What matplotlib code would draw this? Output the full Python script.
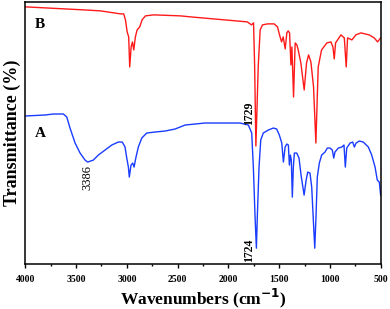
import matplotlib
matplotlib.use("Agg")
import matplotlib.pyplot as plt
from matplotlib.ticker import MultipleLocator

# spectrum A (blue): wavenumber (cm-1) and transmittance (arbitrary units)
wn_a = [4000, 3806, 3724, 3626, 3592, 3560, 3510, 3461, 3412, 3386, 3330, 3281,
        3215, 3149, 3084, 3045, 3018, 3001, 2985, 2976, 2959, 2942, 2929, 2910,
        2887, 2853, 2804, 2722, 2623, 2525, 2426, 2328, 2230, 2181, 1885, 1803,
        1770, 1754, 1737, 1724, 1715, 1698, 1681, 1656, 1606, 1557, 1524, 1498,
        1474, 1458, 1441, 1424, 1409, 1399, 1389, 1380, 1370, 1360, 1350, 1327,
        1304, 1284, 1254, 1234, 1218, 1196, 1179, 1163, 1149, 1137, 1124, 1104,
        1081, 1048, 1025, 999, 976, 962, 950, 917, 883, 861, 848, 834, 801, 775,
        759, 742, 710, 671, 621, 588, 555, 533, 513, 500]
t_a = [148, 149, 150, 150, 147, 136, 121, 111, 104, 102, 104, 109,
       114, 119, 122, 122, 117, 106, 97, 87, 99, 101, 97, 107,
       117, 126, 131, 132, 133, 135, 139, 140, 141, 141, 141, 139,
       131, 97, 47, 16, 47, 97, 124, 131, 134, 136, 135, 129,
       121, 102, 117, 120, 119, 99, 109, 104, 67, 97, 111, 111,
       106, 89, 69, 84, 92, 91, 77, 44, 16, 47, 87, 101,
       109, 112, 116, 116, 114, 106, 112, 116, 117, 119, 97, 116, 121, 122,
       117, 121, 123, 122, 117, 109, 97, 84, 82, 69]

# spectrum B (red)
wn_b = [4000, 3428, 3261, 3063, 3031, 3014, 2997, 2982, 2972, 2958, 2945, 2932,
        2916, 2899, 2873, 2850, 2817, 2735, 2472, 2373, 1814, 1772, 1752, 1741,
        1729, 1706, 1687, 1664, 1614, 1549, 1516, 1496, 1476, 1460, 1440, 1424,
        1411, 1397, 1384, 1374, 1358, 1342, 1325, 1312, 1286, 1253, 1230, 1210,
        1187, 1161, 1138, 1115, 1082, 1030, 990, 970, 957, 944, 924, 891, 858,
        839, 826, 783, 744, 695, 613, 563, 530, 500]
t_b = [257, 254, 253, 250, 250, 244, 232, 227, 197, 217, 222, 214,
       227, 234, 237, 244, 248, 249, 248, 247, 242, 239, 241, 197,
       118, 197, 234, 239, 240, 240, 237, 229, 222, 227, 215, 231,
       233, 231, 199, 217, 167, 221, 219, 214, 201, 174, 201, 209,
       202, 177, 121, 197, 214, 221, 222, 217, 205, 221, 224, 229, 226,
       197, 226, 224, 229, 231, 229, 226, 222, 226]

peak_labels = ["3386", "1724", "1729"]

plt.rcParams["font.family"] = ["Liberation Serif", "DejaVu Serif"]

fig = plt.figure(figsize=(3.9, 3.09), dpi=100)
ax = fig.add_axes([0.065, 0.145, 0.911, 0.849])

ax.plot(wn_b, t_b, color="#ff1a1a", lw=1.0)
ax.plot(wn_a, t_a, color="#1a3cff", lw=1.0)

ax.set_xlim(4000, 500)
ax.set_ylim(0, 262)
ax.set_yticks([])
ax.xaxis.set_major_locator(MultipleLocator(500))
ax.xaxis.set_minor_locator(MultipleLocator(250))
ax.tick_params(axis="x", which="major", direction="out", length=3, width=1,
               labelsize=7, pad=4.5)
ax.tick_params(axis="x", which="minor", direction="out", length=1.6, width=1)
for lbl in ax.get_xticklabels():
    lbl.set_fontweight("bold")
for sp in ax.spines.values():
    sp.set_linewidth(1.1)

ax.text(3855, 239, "B", fontsize=11, fontweight="bold", ha="center", va="center")
ax.text(3850, 131, "A", fontsize=11, fontweight="bold", ha="center", va="center")

ax.text(3386, 99, peak_labels[0], rotation=90, fontsize=9, ha="center", va="top")
ax.text(1797, 2, peak_labels[1], rotation=90, fontsize=8.5, fontweight="bold",
        ha="center", va="bottom")
ax.text(1797, 139, peak_labels[2], rotation=90, fontsize=8.5, fontweight="bold",
        ha="center", va="bottom")

ax.set_xlabel("Wavenumbers (cm$^{\\mathbf{-1}}$)", fontsize=12.5, fontweight="bold",
              labelpad=2)
ax.set_ylabel("Transmittance (%)", fontsize=13, fontweight="bold", labelpad=3)

fig.savefig("out.png", dpi=100)
